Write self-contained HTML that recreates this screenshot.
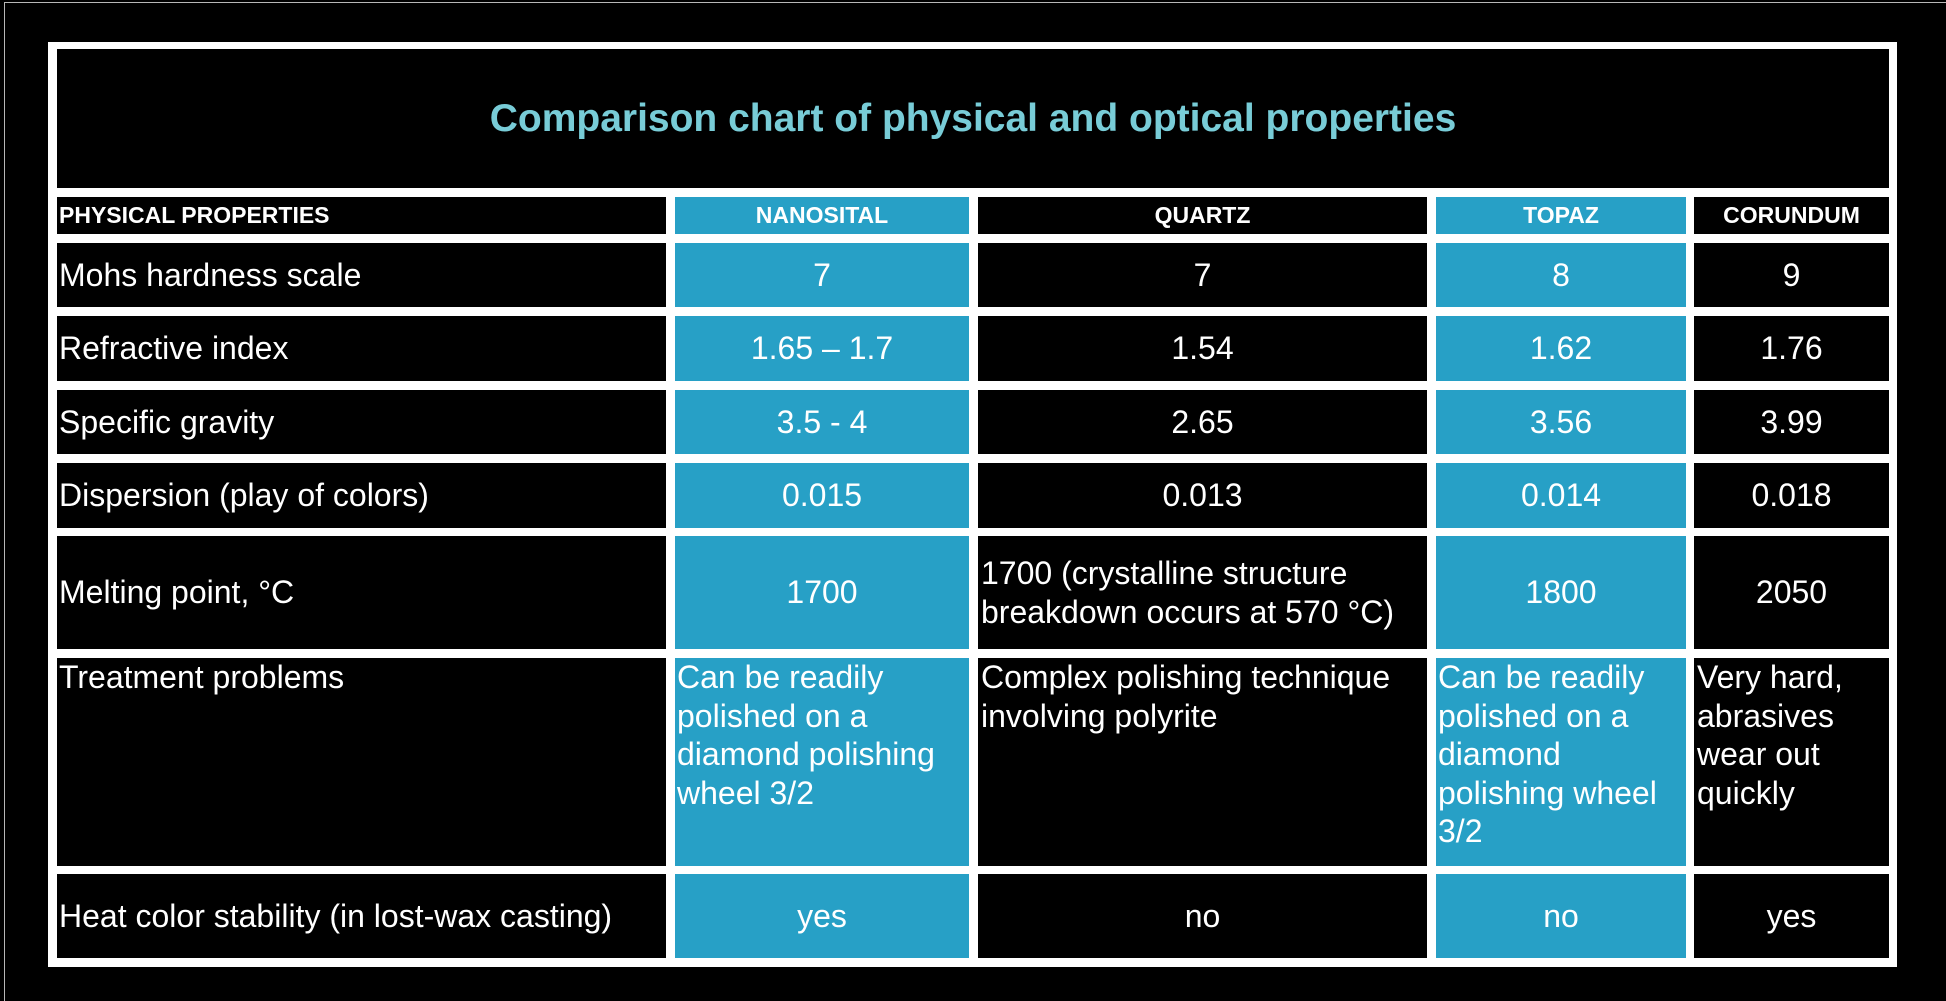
<!DOCTYPE html>
<html>
<head>
<meta charset="utf-8">
<style>
  html, body { margin:0; padding:0; }
  body { width:1946px; height:1001px; background:#000; position:relative; overflow:hidden;
         font-family:"Liberation Sans", Arial, sans-serif; color:#fff; }
  .abs { position:absolute; }
  .frame { left:48px; top:42px; width:1849px; height:925px; background:#fff; }
  .title { left:57px; top:49px; width:1832px; height:139px; background:#000;
           display:flex; align-items:center; justify-content:center;
           font-weight:bold; font-size:39px; color:#78ccd7; }
  .c { position:absolute; background:#000; display:flex; align-items:center; box-sizing:border-box;
       font-size:32px; line-height:38.5px; white-space:nowrap; }
  .b { background:#27a0c6; }
  .ctr { justify-content:center; text-align:center; }
  .lft { padding-left:2px; }
  .top { align-items:flex-start; padding-left:2px; }
  .hd { font-weight:bold; font-size:23px; }
  .c0 { left:57px; width:609px; }
  .c1 { left:675px; width:294px; }
  .c2 { left:978px; width:449px; }
  .c3 { left:1436px; width:250px; }
  .c4 { left:1694px; width:195px; }
  .rh { top:197px; height:37px; }
  .r1 { top:243px; height:64px; }
  .r2 { top:316px; height:65px; }
  .r3 { top:390px; height:64px; }
  .r4 { top:463px; height:65px; }
  .r5 { top:536px; height:113px; }
  .r6 { top:658px; height:208px; }
  .r7 { top:874px; height:84px; }
  .lineT { left:4px; top:2px; width:1942px; height:1px; background:#b8b8b8; }
  .lineL { left:4px; top:2px; width:1px; height:999px; background:#b8b8b8; }
</style>
</head>
<body>
<div class="abs lineT"></div>
<div class="abs lineL"></div>
<div class="abs frame"></div>
<div class="abs title">Comparison chart of physical and optical properties</div>

<!-- header -->
<div class="c c0 rh hd lft">PHYSICAL PROPERTIES</div>
<div class="c c1 rh hd ctr b">NANOSITAL</div>
<div class="c c2 rh hd ctr">QUARTZ</div>
<div class="c c3 rh hd ctr b">TOPAZ</div>
<div class="c c4 rh hd ctr">CORUNDUM</div>

<!-- row 1 -->
<div class="c c0 r1 lft">Mohs hardness scale</div>
<div class="c c1 r1 ctr b">7</div>
<div class="c c2 r1 ctr">7</div>
<div class="c c3 r1 ctr b">8</div>
<div class="c c4 r1 ctr">9</div>

<!-- row 2 -->
<div class="c c0 r2 lft">Refractive index</div>
<div class="c c1 r2 ctr b">1.65 – 1.7</div>
<div class="c c2 r2 ctr">1.54</div>
<div class="c c3 r2 ctr b">1.62</div>
<div class="c c4 r2 ctr">1.76</div>

<!-- row 3 -->
<div class="c c0 r3 lft">Specific gravity</div>
<div class="c c1 r3 ctr b">3.5 - 4</div>
<div class="c c2 r3 ctr">2.65</div>
<div class="c c3 r3 ctr b">3.56</div>
<div class="c c4 r3 ctr">3.99</div>

<!-- row 4 -->
<div class="c c0 r4 lft">Dispersion (play of colors)</div>
<div class="c c1 r4 ctr b">0.015</div>
<div class="c c2 r4 ctr">0.013</div>
<div class="c c3 r4 ctr b">0.014</div>
<div class="c c4 r4 ctr">0.018</div>

<!-- row 5 -->
<div class="c c0 r5 lft">Melting point, °C</div>
<div class="c c1 r5 ctr b">1700</div>
<div class="c c2 r5" style="padding-left:3px;"><div>1700 (crystalline structure<br>breakdown occurs at 570 °C)</div></div>
<div class="c c3 r5 ctr b">1800</div>
<div class="c c4 r5 ctr">2050</div>

<!-- row 6 -->
<div class="c c0 r6 top">Treatment problems</div>
<div class="c c1 r6 top b"><div>Can be readily<br>polished on a<br>diamond polishing<br>wheel 3/2</div></div>
<div class="c c2 r6 top" style="padding-left:3px;"><div>Complex polishing technique<br>involving polyrite</div></div>
<div class="c c3 r6 top b"><div>Can be readily<br>polished on a<br>diamond<br>polishing wheel<br>3/2</div></div>
<div class="c c4 r6 top" style="padding-left:3px;"><div>Very hard,<br>abrasives<br>wear out<br>quickly</div></div>

<!-- row 7 -->
<div class="c c0 r7 lft">Heat color stability (in lost-wax casting)</div>
<div class="c c1 r7 ctr b">yes</div>
<div class="c c2 r7 ctr">no</div>
<div class="c c3 r7 ctr b">no</div>
<div class="c c4 r7 ctr">yes</div>
</body>
</html>
